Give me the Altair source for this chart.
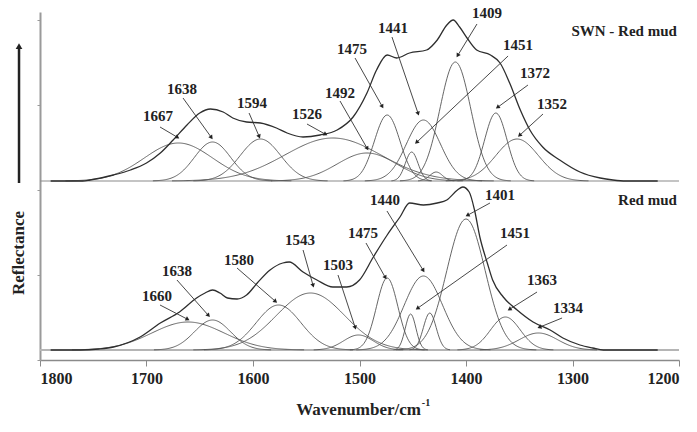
import math
import numpy as np
import pandas as pd
import altair as alt

# ---------------- data ----------------
TOP_BASE = 179   # baseline of the "SWN - Red mud" trace (arbitrary reflectance units)
BOT_BASE = 10    # baseline of the "Red mud" trace

# fitted component bands: centre (cm-1), height above baseline, width (sigma, cm-1)
top_centers = [1670, 1638, 1593, 1525, 1493, 1474, 1451, 1440, 1428, 1410, 1372, 1352]
top_heights = [38, 39, 42, 43, 28, 66, 29, 61, 9, 119, 68, 42]
top_widths = [32, 17, 19, 45, 28, 12, 6, 16, 6, 14.5, 10.5, 20]

bot_centers = [1661, 1638, 1576, 1546, 1501, 1474, 1452, 1440, 1434, 1400, 1363, 1332]
bot_heights = [28, 30, 45, 57, 15, 72, 36, 74, 37, 131, 33, 17]
bot_widths = [34, 17, 21, 32, 14, 10, 5, 18, 6, 18, 14, 18]

# measured envelopes (wavenumber, height above baseline)
top_env_w = [1790, 1760, 1753, 1731, 1715, 1700, 1687, 1675, 1662, 1650, 1640, 1628, 1619,
             1606, 1593, 1578, 1568, 1553, 1537, 1521, 1506, 1493, 1484, 1474, 1465, 1453,
             1437, 1427, 1418, 1412, 1406, 1399, 1390, 1377, 1368, 1359, 1349, 1340, 1328,
             1312, 1293, 1274, 1262, 1250, 1220]
top_env_h = [0, 0, 1, 6, 11, 18, 28, 41, 56, 68, 72, 69, 63,
             59, 58, 53, 48, 44, 46, 51, 64, 88, 111, 126, 123, 128,
             131, 141, 156, 161, 154, 143, 131, 126, 118, 98, 71, 51, 34,
             21, 9, 3, 1, 0, 0]

bot_env_w = [1790, 1762, 1745, 1731, 1706, 1687, 1669, 1653, 1645, 1638, 1631, 1624, 1615,
             1606, 1596, 1584, 1572, 1566, 1553, 1540, 1525, 1512, 1500, 1487, 1474, 1462,
             1453, 1440, 1427, 1418, 1408, 1403, 1397, 1392, 1387, 1380, 1375, 1365, 1352,
             1337, 1321, 1309, 1293, 1281, 1271, 1220]
bot_env_h = [0, 0, 1, 3, 13, 27, 38, 52, 57, 60, 57, 52, 51,
             55, 67, 80, 87, 88, 78, 70, 63, 63, 70, 93, 115, 133,
             147, 145, 147, 150, 160, 163, 158, 140, 113, 87, 70, 53, 40,
             28, 20, 12, 5, 2, 0, 0]

# peak labels: text position, arrow start, arrow tip (data coordinates)
top_lab = ["1667", "1638", "1594", "1526", "1492", "1475", "1441", "1409", "1451", "1372", "1352"]
top_lab_w = [1689.2, 1666.7, 1600.9, 1549.3, 1518.3, 1507.0, 1468.5, 1380.3, 1351.2, 1335.2, 1319.2]
top_lab_y = [244, 271, 257, 246, 267, 311, 332, 347, 315, 287, 256]
top_arr_w = [1687.3, 1665.7, 1603.7, 1549.3, 1518.3, 1504.2, 1469.5, 1389.7, 1360.5, 1341.8, 1327.7]
top_arr_y = [233, 262, 247, 236, 259, 302, 323, 336, 304, 275, 246]
top_tip_w = [1671.4, 1639.4, 1594.4, 1532.4, 1493.0, 1478.9, 1445.1, 1407.5, 1446.0, 1369.9, 1349.3]
top_tip_y = [223, 223, 224, 226, 212, 254, 247, 305, 218, 253, 225]

bot_lab = ["1660", "1638", "1580", "1543", "1503", "1475", "1440", "1401", "1451", "1363", "1334"]
bot_lab_w = [1690.1, 1671.4, 1613.1, 1555.9, 1520.2, 1496.7, 1476.0, 1368.1, 1354.0, 1328.6, 1304.2]
bot_lab_y = [64, 89, 100, 120, 95, 127, 160, 165, 127, 80, 52]
bot_arr_w = [1687.3, 1671.4, 1615.0, 1553.0, 1520.2, 1493.9, 1474.2, 1377.5, 1361.5, 1333.3, 1309.8]
bot_arr_y = [55, 80, 92, 110, 85, 117, 149, 157, 115, 68, 42]
bot_tip_w = [1661.9, 1642.2, 1579.3, 1543.7, 1504.2, 1476.0, 1440.4, 1398.1, 1445.1, 1358.7, 1330.5]
bot_tip_y = [41, 45, 59, 75, 33, 83, 90, 145, 52, 51, 33]

panel_names = ["SWN - Red mud", "Red mud"]
panel_name_w = [1202, 1202]
panel_name_y = [329, 160]

x_ticks = [1800, 1700, 1600, 1500, 1400, 1300, 1200]

# ---------------- build tables ----------------
PX_PER_W = 639 / 600.0  # only used to orient arrow heads

grid = np.arange(1800.0, 1199.0, -1.0)
band_rows = []
for panel, cs, hs, ss, base in [("top", top_centers, top_heights, top_widths, TOP_BASE),
                                ("bot", bot_centers, bot_heights, bot_widths, BOT_BASE)]:
    for i, (c, h, s) in enumerate(zip(cs, hs, ss)):
        v = h * np.exp(-0.5 * ((grid - c) / s) ** 2)
        m = v > 0.15
        for w, val in zip(grid[m], v[m]):
            band_rows.append({"band": f"{panel}{i}", "w": float(w), "y": base + float(val)})
bands = pd.DataFrame(band_rows)

env_rows = []
for panel, ws, hs, base in [("top", top_env_w, top_env_h, TOP_BASE),
                            ("bot", bot_env_w, bot_env_h, BOT_BASE)]:
    for w, h in zip(ws, hs):
        env_rows.append({"panel": panel, "w": w, "y": base + h})
env = pd.DataFrame(env_rows)

base_df = pd.DataFrame({"w": [1800, 1800], "w2": [1200, 1200], "y": [TOP_BASE, BOT_BASE],
                        "col": ["#8a8a8a", "#b5b5b5"], "sw": [1.2, 2.2]})

ann_rows = []
for labs, lw, ly, aw, ay, tw, ty in [(top_lab, top_lab_w, top_lab_y, top_arr_w, top_arr_y, top_tip_w, top_tip_y),
                                     (bot_lab, bot_lab_w, bot_lab_y, bot_arr_w, bot_arr_y, bot_tip_w, bot_tip_y)]:
    for k in range(len(labs)):
        sdx = -(tw[k] - aw[k]) * PX_PER_W
        sdy = -(ty[k] - ay[k])
        ang = math.degrees(math.atan2(sdx, -sdy)) % 360
        ann_rows.append({"label": labs[k], "lw": lw[k], "ly": ly[k], "w": aw[k], "y": ay[k],
                         "w2": tw[k], "y2": ty[k], "ang": ang})
ann = pd.DataFrame(ann_rows)

names = pd.DataFrame({"name": panel_names, "w": panel_name_w, "y": panel_name_y})

# ---------------- encodings ----------------
SERIF = "Liberation Serif"
xscale = alt.Scale(domain=[1800, 1200], nice=False, zero=False)
yscale = alt.Scale(domain=[0, 348], nice=False, zero=False)
xaxis = alt.Axis(values=x_ticks, format="d", title=None, grid=False,
                 labelFont=SERIF, labelFontWeight="bold", labelFontSize=16, labelColor="#222",
                 domainColor="#8a8a8a", domainWidth=1.5, tickColor="#8a8a8a", tickSize=6,
                 labelPadding=4)
yaxis = alt.Axis(values=[0, 85, 170, 255, 340], labels=False, title=None, grid=False,
                 domainColor="#9a9a9a", domainWidth=2, tickColor="#9a9a9a", tickSize=3)
X = alt.X("w:Q", scale=xscale, axis=xaxis)
Y = alt.Y("y:Q", scale=yscale, axis=yaxis)

baselines = alt.Chart(base_df).mark_rule().encode(
    x=X, x2="w2:Q", y=Y,
    color=alt.Color("col:N", scale=None),
    strokeWidth=alt.StrokeWidth("sw:Q", scale=None))

band_lines = alt.Chart(bands).mark_line(color="#555555", strokeWidth=0.9).encode(
    x=X, y=Y, detail="band:N")

env_lines = alt.Chart(env).mark_line(color="#2e2e2e", strokeWidth=1.3, interpolate="monotone").encode(
    x=X, y=Y, detail="panel:N")

arrows = alt.Chart(ann).mark_rule(color="#333333", strokeWidth=0.9).encode(
    x=X, y=Y, x2="w2:Q", y2="y2:Q")

heads = alt.Chart(ann).mark_point(shape="triangle", filled=True, size=22, color="#222222", opacity=1).encode(
    x=alt.X("w2:Q", scale=xscale, axis=xaxis), y=alt.Y("y2:Q", scale=yscale, axis=yaxis),
    angle=alt.Angle("ang:Q", scale=None))

labels = alt.Chart(ann).mark_text(font=SERIF, fontWeight="bold", fontSize=15, color="#222222",
                                  align="center", baseline="middle").encode(
    x=alt.X("lw:Q", scale=xscale, axis=xaxis), y=alt.Y("ly:Q", scale=yscale, axis=yaxis), text="label:N")

panel_text = alt.Chart(names).mark_text(font=SERIF, fontWeight="bold", fontSize=15, color="#222222",
                                        align="right", baseline="middle").encode(
    x=X, y=Y, text="name:N")

# axis titles and the reflectance arrow, placed in data coordinates outside the plot
ytitle = alt.Chart(pd.DataFrame({"w": [1819.7], "y": [107], "t": ["Reflectance"]})).mark_text(
    font=SERIF, fontWeight="bold", fontSize=17, color="#222222", angle=270,
    align="center", baseline="middle").encode(x=X, y=Y, text="t:N")

yarrow = alt.Chart(pd.DataFrame({"w": [1819.7], "y": [177], "y2": [311]})).mark_rule(
    color="#222222", strokeWidth=2.5).encode(x=X, y=Y, y2="y2:Q")
yarrow_head = alt.Chart(pd.DataFrame({"w": [1819.7], "y": [313]})).mark_point(
    shape="triangle", filled=True, size=45, color="#222222", opacity=1).encode(x=X, y=Y)

xtitle = alt.Chart(pd.DataFrame({"w": [1442.3], "y": [-50], "t": ["Wavenumber/cm"]})).mark_text(
    font=SERIF, fontWeight="bold", fontSize=17, color="#222222", align="right",
    baseline="middle").encode(x=X, y=Y, text="t:N")
xsup = alt.Chart(pd.DataFrame({"w": [1441.5], "y": [-43], "t": ["-1"]})).mark_text(
    font=SERIF, fontWeight="bold", fontSize=10, color="#222222", align="left",
    baseline="middle").encode(x=X, y=Y, text="t:N")

chart = alt.layer(
    baselines, band_lines, env_lines, arrows, heads, labels, panel_text,
    ytitle, yarrow, yarrow_head, xtitle, xsup
).properties(
    width=639, height=348,
    autosize=alt.AutoSizeParams(type="none"),
    padding={"left": 40, "top": 12, "right": 18, "bottom": 72},
    background="white",
).configure_view(stroke=None)

chart.save("out.html", embed_options={"renderer": "svg", "actions": False})
